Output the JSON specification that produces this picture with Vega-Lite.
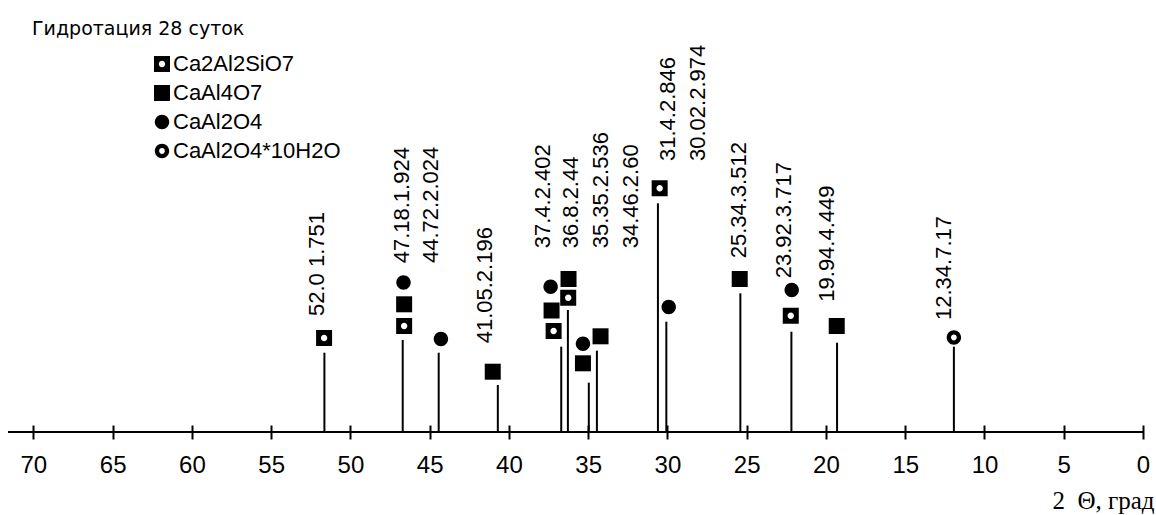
{
  "$schema": "https://vega.github.io/schema/vega-lite/v6.json",
  "autosize": {"type": "none"},
  "padding": {"left": 8, "top": 40, "right": 13, "bottom": 83},
  "width": 1135,
  "height": 392,
  "background": "white",
  "title": {"text": "Гидротация 28 суток", "anchor": "start", "frame": "group", "orient": "top", "offset": 6.7, "baseline": "alphabetic", "dx": 24, "dy": 21, "font": "DejaVu Sans", "fontSize": 19, "fontWeight": "normal", "color": "black"},
  "config": {"view": {"stroke": null}},
  "datasets": {
    "peaks": [
      {"theta": 51.64, "stem": 79.3, "label": "52.0 1.751", "lx": 52.08, "ly": 116},
      {"theta": 46.70, "stem": 92, "label": "47.18.1.924", "lx": 46.72, "ly": 168.7},
      {"theta": 44.43, "stem": 79.3, "label": "44.72.2.024", "lx": 44.89, "ly": 169},
      {"theta": 40.70, "stem": 47, "label": "41.05.2.196", "lx": 41.54, "ly": 88.7},
      {"theta": 36.70, "stem": 85.3, "label": "37.4.2.402", "lx": 37.88, "ly": 183.7},
      {"theta": 36.28, "stem": 122, "label": "36.8.2.44", "lx": 36.11, "ly": 183.7},
      {"theta": 34.96, "stem": 49.3, "label": "35.35.2.536", "lx": 34.19, "ly": 183.7},
      {"theta": 34.45, "stem": 81.3, "label": "34.46.2.60", "lx": 32.32, "ly": 183.7},
      {"theta": 30.60, "stem": 228.7, "label": "31.4.2.846", "lx": 29.99, "ly": 271},
      {"theta": 30.07, "stem": 110.3, "label": "30.02.2.974", "lx": 28.09, "ly": 271},
      {"theta": 25.40, "stem": 138.7, "label": "25.34.3.512", "lx": 25.51, "ly": 173.7},
      {"theta": 22.18, "stem": 100.3, "label": "23.92.3.717", "lx": 22.66, "ly": 153.7},
      {"theta": 19.30, "stem": 89.3, "label": "19.94.4.449", "lx": 19.92, "ly": 130.3},
      {"theta": 11.93, "stem": 85.3, "label": "12.34.7.17", "lx": 12.56, "ly": 112}
    ],
    "markers": [
      {"theta": 51.66, "I": 94, "phase": "Ca2Al2SiO7"},
      {"theta": 46.61, "I": 106, "phase": "Ca2Al2SiO7"},
      {"theta": 46.61, "I": 127.7, "phase": "CaAl4O7"},
      {"theta": 46.65, "I": 149.5, "phase": "CaAl2O4"},
      {"theta": 44.29, "I": 93, "phase": "CaAl2O4"},
      {"theta": 41.02, "I": 60.3, "phase": "CaAl4O7"},
      {"theta": 37.18, "I": 101, "phase": "Ca2Al2SiO7"},
      {"theta": 37.31, "I": 121.5, "phase": "CaAl4O7"},
      {"theta": 37.37, "I": 145.3, "phase": "CaAl2O4"},
      {"theta": 36.26, "I": 134.3, "phase": "Ca2Al2SiO7"},
      {"theta": 36.24, "I": 153, "phase": "CaAl4O7"},
      {"theta": 35.33, "I": 68.7, "phase": "CaAl4O7"},
      {"theta": 35.33, "I": 88.3, "phase": "CaAl2O4"},
      {"theta": 34.22, "I": 95.7, "phase": "CaAl4O7"},
      {"theta": 30.49, "I": 243.7, "phase": "Ca2Al2SiO7"},
      {"theta": 29.92, "I": 125, "phase": "CaAl2O4"},
      {"theta": 25.44, "I": 153, "phase": "CaAl4O7"},
      {"theta": 22.22, "I": 116.2, "phase": "Ca2Al2SiO7"},
      {"theta": 22.16, "I": 142, "phase": "CaAl2O4"},
      {"theta": 19.32, "I": 106, "phase": "CaAl4O7"},
      {"theta": 11.93, "I": 94.5, "phase": "CaAl2O4*10H2O"}
    ]
  },
  "layer": [
    {
      "data": {"values": [{"base": 0}]},
      "mark": {"type": "rule", "strokeWidth": 2, "color": "black"},
      "encoding": {
        "y": {"field": "base", "type": "quantitative", "scale": {"domain": [0, 392], "nice": false, "zero": true}, "axis": null}
      }
    },
    {
      "data": {"name": "peaks"},
      "mark": {"type": "rule", "strokeWidth": 2, "color": "black"},
      "encoding": {
        "x": {
          "field": "theta", "type": "quantitative",
          "scale": {"domain": [0, 71.6], "reverse": true, "nice": false, "zero": false},
          "axis": {
            "values": [0, 5, 10, 15, 20, 25, 30, 35, 40, 45, 50, 55, 60, 65, 70],
            "offset": -7, "tickSize": 14, "tickWidth": 2, "tickColor": "black",
            "domain": false, "grid": false,
            "labelFont": "Liberation Sans", "labelFontSize": 24, "labelColor": "black",
            "labelPadding": 14, "labelFlush": false, "labelOverlap": false,
            "title": "2\u00a0\u00a0Θ, град", "titleFont": "Liberation Serif", "titleFontSize": 25,
            "titleFontWeight": "normal", "titleColor": "black",
            "titleX": 1146, "titleY": 83, "titleAlign": "right", "titleBaseline": "alphabetic"
          }
        },
        "y": {"field": "stem", "type": "quantitative", "axis": null},
        "y2": {"datum": 0}
      }
    },
    {
      "data": {"name": "markers"},
      "mark": {"type": "point", "filled": true, "color": "black", "size": 256, "opacity": 1, "strokeWidth": 0},
      "encoding": {
        "x": {"field": "theta", "type": "quantitative"},
        "y": {"field": "I", "type": "quantitative"},
        "shape": {
          "field": "phase", "type": "nominal",
          "scale": {
            "domain": ["Ca2Al2SiO7", "CaAl4O7", "CaAl2O4", "CaAl2O4*10H2O"],
            "range": [
              "M-1,-1H1V1H-1Z M0,-0.4A0.4,0.4 0 1,0 0,0.4A0.4,0.4 0 1,0 0,-0.4Z",
              "M-1,-1H1V1H-1Z",
              "M-0.9,0A0.9,0.9 0 1,1 0.9,0A0.9,0.9 0 1,1 -0.9,0Z",
              "M-0.9,0A0.9,0.9 0 1,1 0.9,0A0.9,0.9 0 1,1 -0.9,0Z M-0.36,0A0.36,0.36 0 1,0 0.36,0A0.36,0.36 0 1,0 -0.36,0Z"
            ]
          },
          "legend": {
            "title": null, "orient": "none", "legendX": 143, "legendY": 13,
            "symbolSize": 256, "symbolFillColor": "black", "symbolStrokeWidth": 0, "symbolOpacity": 1,
            "labelFont": "Liberation Sans", "labelFontSize": 22, "labelColor": "black",
            "labelOffset": 0, "rowPadding": 7, "padding": 0, "labelLimit": 400
          }
        }
      }
    },
    {
      "data": {"name": "peaks"},
      "mark": {"type": "text", "angle": 270, "align": "left", "baseline": "middle", "font": "Liberation Sans", "fontSize": 22, "color": "black"},
      "encoding": {
        "x": {"field": "lx", "type": "quantitative"},
        "y": {"field": "ly", "type": "quantitative"},
        "text": {"field": "label", "type": "nominal"}
      }
    }
  ]
}
